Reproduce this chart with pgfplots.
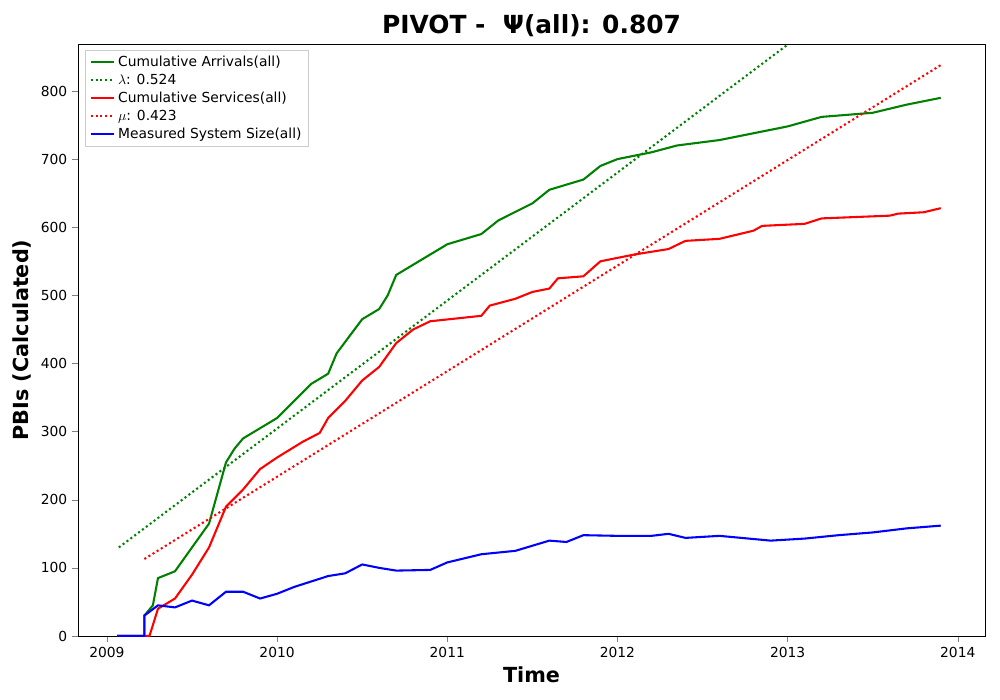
\documentclass[border=0pt]{standalone}
\usepackage{pgfplots}
\pgfplotsset{compat=1.18}
\usepackage{fontspec}
\setmainfont{DejaVu Sans}
\definecolor{mgreen}{RGB}{0,128,0}
\begin{document}
\begin{tikzpicture}
\path (-0.78in,-0.64in) rectangle (9.22in,6.36in);
\begin{axis}[scale only axis, width=9.07in, height=5.92in,
 xmin=2008.83, xmax=2014.16, ymin=0, ymax=869,
 xtick={2009,2010,2011,2012,2013,2014},
 xticklabels={2009,2010,2011,2012,2013,2014},
 ytick={0,100,200,300,400,500,600,700,800},
 /pgf/number format/assume math mode=true,
 ticklabel style={font=\fontsize{10}{12}\selectfont},
 xlabel={\fontsize{15}{18}\selectfont\bfseries Time},
 ylabel={\fontsize{15}{18}\selectfont\bfseries PBIs (Calculated)},
 title={\fontsize{18}{22}\selectfont\bfseries PIVOT -\ \ Ψ(all): 0.807},
 title style={yshift=-4pt},
 legend style={at={(0.008,0.99)}, anchor=north west, font=\fontsize{10}{12}\selectfont, legend cell align=left},
 every axis legend/.append style={draw=black!20},
 tick align=outside, tick pos=left]
\addplot[color=mgreen, line width=1.5pt] coordinates {(2009.06,0)(2009.22,0)(2009.22,30)(2009.27,45)(2009.3,85)(2009.4,95)(2009.5,130)(2009.6,165)(2009.65,210)(2009.7,255)(2009.75,275)(2009.8,290)(2010.0,320)(2010.2,370)(2010.3,385)(2010.35,415)(2010.5,465)(2010.6,480)(2010.65,500)(2010.7,530)(2010.8,545)(2010.9,560)(2011.0,575)(2011.2,590)(2011.3,610)(2011.5,635)(2011.6,655)(2011.8,670)(2011.9,690)(2012.0,700)(2012.2,710)(2012.35,720)(2012.6,728)(2012.8,738)(2013.0,748)(2013.2,762)(2013.5,768)(2013.7,780)(2013.9,790)};
\addlegendentry{Cumulative Arrivals(all)}
\addplot[color=mgreen, line width=1.5pt, dotted] coordinates {(2009.07,130)(2013.0,868)};
\addlegendentry{$\lambda$: 0.524}
\addplot[color=red, line width=1.5pt] coordinates {(2009.06,0)(2009.25,0)(2009.3,40)(2009.4,55)(2009.5,90)(2009.6,130)(2009.7,190)(2009.8,215)(2009.9,245)(2010.0,262)(2010.15,285)(2010.25,298)(2010.3,320)(2010.4,345)(2010.5,375)(2010.6,395)(2010.7,430)(2010.8,450)(2010.9,462)(2011.2,470)(2011.25,485)(2011.4,495)(2011.5,505)(2011.6,510)(2011.65,525)(2011.8,528)(2011.9,550)(2012.1,560)(2012.3,568)(2012.4,580)(2012.6,583)(2012.8,595)(2012.85,602)(2013.1,605)(2013.2,613)(2013.6,617)(2013.65,620)(2013.8,622)(2013.9,628)};
\addlegendentry{Cumulative Services(all)}
\addplot[color=red, line width=1.5pt, dotted] coordinates {(2009.22,113)(2013.9,838)};
\addlegendentry{$\mu$: 0.423}
\addplot[color=blue, line width=1.5pt] coordinates {(2009.06,0)(2009.22,0)(2009.22,30)(2009.3,45)(2009.4,42)(2009.5,52)(2009.6,45)(2009.7,65)(2009.8,65)(2009.9,55)(2010.0,62)(2010.1,72)(2010.2,80)(2010.3,88)(2010.4,92)(2010.5,105)(2010.6,100)(2010.7,96)(2010.9,97)(2011.0,108)(2011.2,120)(2011.4,125)(2011.6,140)(2011.7,138)(2011.8,148)(2012.0,147)(2012.2,147)(2012.3,150)(2012.4,144)(2012.6,147)(2012.9,140)(2013.1,143)(2013.3,148)(2013.5,152)(2013.7,158)(2013.8,160)(2013.9,162)};
\addlegendentry{Measured System Size(all)}
\end{axis}
\end{tikzpicture}
\end{document}
